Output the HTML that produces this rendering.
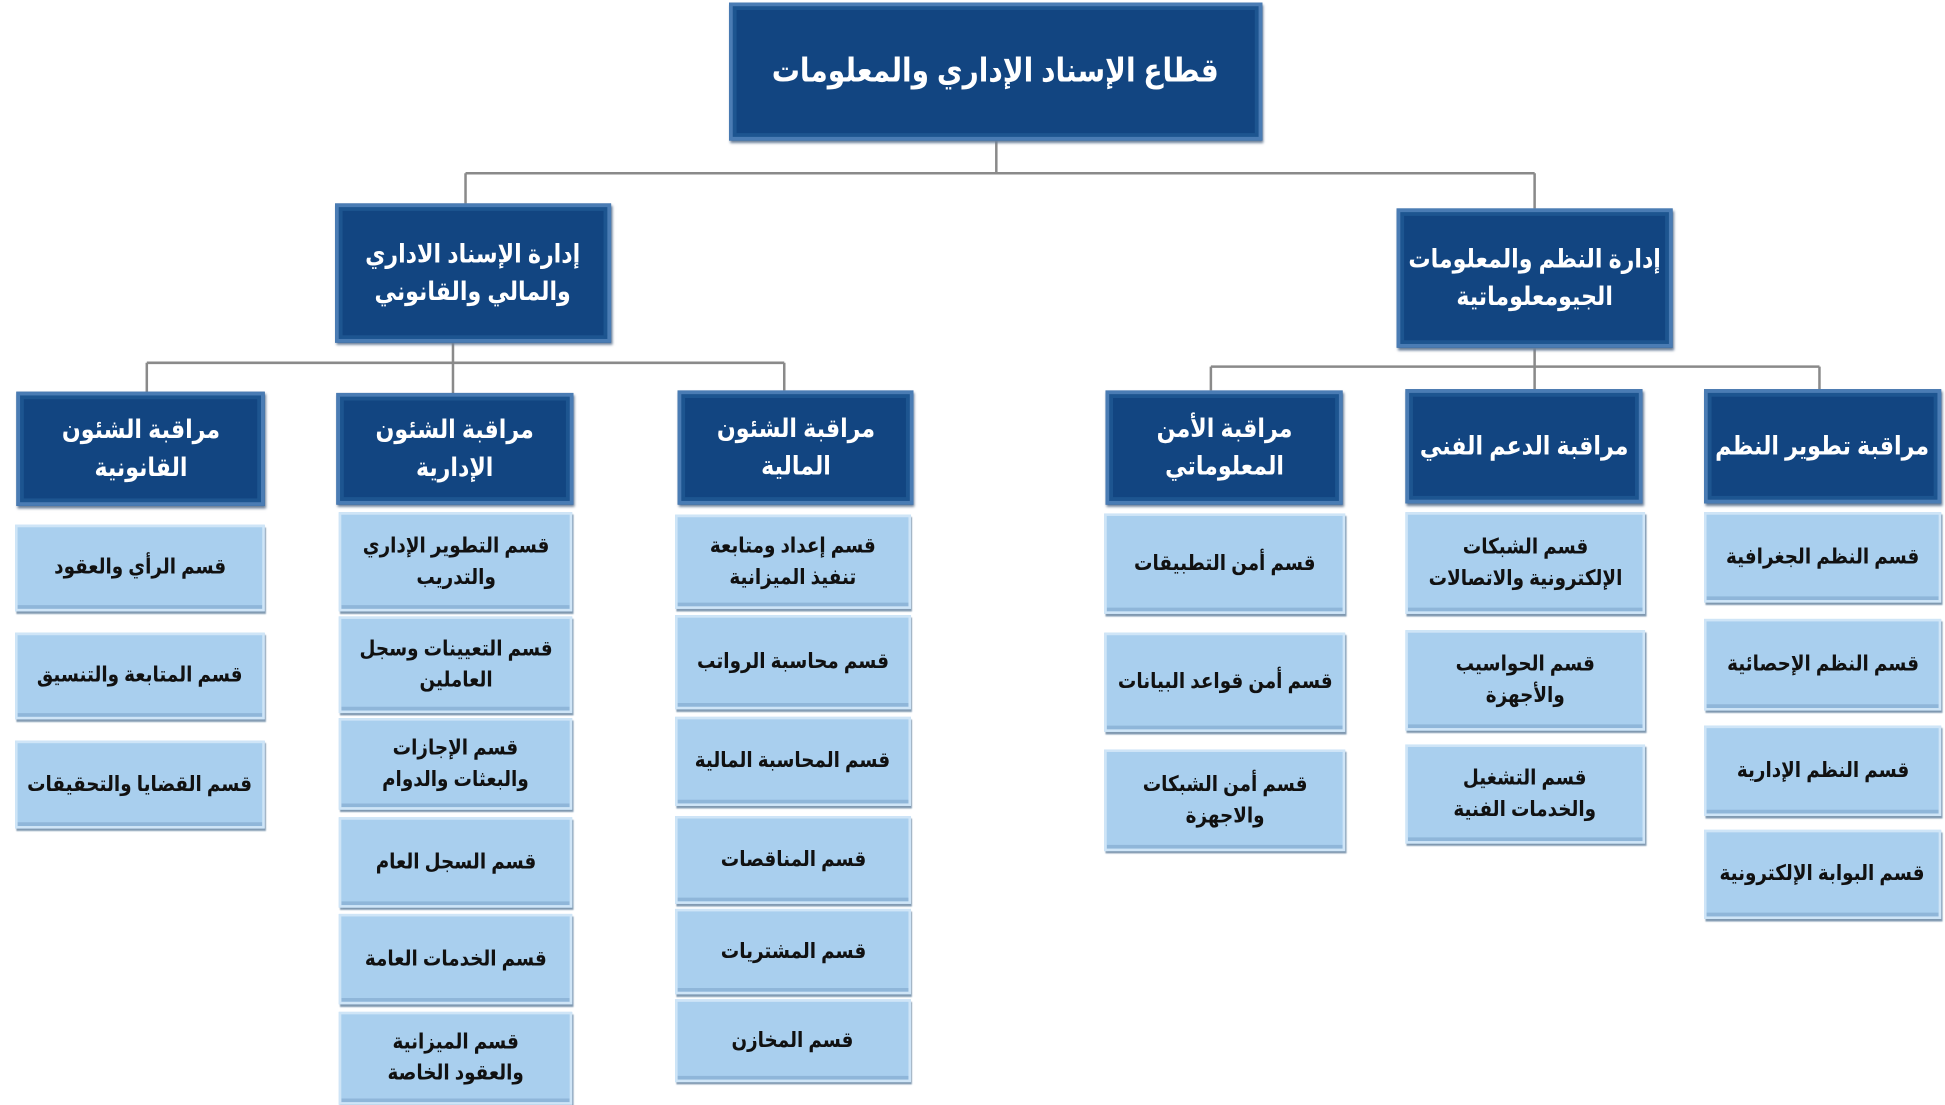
<!DOCTYPE html>
<html><head><meta charset="utf-8"><style>
html,body{margin:0;padding:0;background:#fff;width:1945px;height:1101px;overflow:hidden}
#w{position:absolute;left:0;top:0;width:1550px;height:877px;transform:scale(1.2548,1.2554);transform-origin:0 0}
.b{position:absolute;box-sizing:border-box;display:flex;align-items:center;justify-content:center;text-align:center;direction:rtl;font-family:"Liberation Sans","DejaVu Sans",sans-serif;font-weight:bold;line-height:1.45;white-space:nowrap}
.b span{display:inline-block;transform:scaleX(0.86)}
.d{background:#124581;border:3px solid #4a7cb4;box-shadow:inset 0 0 0 3px #1d5590,1px 2px 2px #6a7f99;color:#fff;font-size:20.5px}
.l{background:#a9cfee;border:2px solid #cfe5f7;box-shadow:inset 0 -3px 0 #8fb6d9,1px 2px 1px #7f98b0;color:#111;font-size:17px}
svg{position:absolute;left:0;top:0}
</style></head><body><div id="w">
<svg width="1550" height="877"><g stroke="#8a8a8a" stroke-width="2" fill="none">
<path d="M794 112V138M371 138H1223M371 138V162M1223 138V166"/>
<path d="M361 273V313M117 289H625M117 289V312M625 289V311"/>
<path d="M1223 277V310M965 292H1450M965 292V311M1450 292V310"/>
</g></svg>
<div class="b d" style="left:581px;top:2px;width:425px;height:110px;font-size:26px"><span>قطاع الإسناد الإداري والمعلومات</span></div>
<div class="b d" style="left:267px;top:162px;width:220px;height:111px"><span>إدارة الإسناد الاداري<br>والمالي والقانوني</span></div>
<div class="b d" style="left:1113px;top:166px;width:220px;height:111px"><span>إدارة النظم والمعلومات<br>الجيومعلوماتية</span></div>

<div class="b d" style="left:13px;top:312px;width:198px;height:91px"><span>مراقبة الشئون<br>القانونية</span></div>
<div class="b d" style="left:268px;top:313px;width:189px;height:89px"><span>مراقبة الشئون<br>الإدارية</span></div>
<div class="b d" style="left:540px;top:311px;width:188px;height:91px"><span>مراقبة الشئون<br>المالية</span></div>
<div class="b d" style="left:881px;top:311px;width:189px;height:91px"><span>مراقبة الأمن<br>المعلوماتي</span></div>
<div class="b d" style="left:1120px;top:310px;width:189px;height:91px"><span>مراقبة الدعم الفني</span></div>
<div class="b d" style="left:1358px;top:310px;width:189px;height:91px"><span>مراقبة تطوير النظم</span></div>

<div class="b l" style="left:12px;top:418px;width:199px;height:69px"><span>قسم الرأي والعقود</span></div>
<div class="b l" style="left:12px;top:504px;width:199px;height:69px"><span>قسم المتابعة والتنسيق</span></div>
<div class="b l" style="left:12px;top:590px;width:199px;height:70px"><span>قسم القضايا والتحقيقات</span></div>

<div class="b l" style="left:270px;top:408px;width:186px;height:79px"><span>قسم التطوير الإداري<br>والتدريب</span></div>
<div class="b l" style="left:270px;top:491px;width:186px;height:77px"><span>قسم التعيينات وسجل<br>العاملين</span></div>
<div class="b l" style="left:270px;top:572px;width:186px;height:73px"><span>قسم الإجازات<br>والبعثات والدوام</span></div>
<div class="b l" style="left:270px;top:651px;width:186px;height:72px"><span>قسم السجل العام</span></div>
<div class="b l" style="left:270px;top:728px;width:186px;height:72px"><span>قسم الخدمات العامة</span></div>
<div class="b l" style="left:270px;top:806px;width:186px;height:74px"><span>قسم الميزانية<br>والعقود الخاصة</span></div>

<div class="b l" style="left:538px;top:410px;width:188px;height:75px"><span>قسم إعداد ومتابعة<br>تنفيذ الميزانية</span></div>
<div class="b l" style="left:538px;top:490px;width:188px;height:75px"><span>قسم محاسبة الرواتب</span></div>
<div class="b l" style="left:538px;top:571px;width:188px;height:71px"><span>قسم المحاسبة المالية</span></div>
<div class="b l" style="left:538px;top:650px;width:188px;height:70px"><span>قسم المناقصات</span></div>
<div class="b l" style="left:538px;top:724px;width:188px;height:68px"><span>قسم المشتريات</span></div>
<div class="b l" style="left:538px;top:796px;width:188px;height:66px"><span>قسم المخازن</span></div>

<div class="b l" style="left:880px;top:409px;width:192px;height:80px"><span>قسم أمن التطبيقات</span></div>
<div class="b l" style="left:880px;top:504px;width:192px;height:79px"><span>قسم أمن قواعد البيانات</span></div>
<div class="b l" style="left:880px;top:597px;width:192px;height:81px"><span>قسم أمن الشبكات<br>والاجهزة</span></div>

<div class="b l" style="left:1120px;top:408px;width:191px;height:81px"><span>قسم الشبكات<br>الإلكترونية والاتصالات</span></div>
<div class="b l" style="left:1120px;top:502px;width:191px;height:80px"><span>قسم الحواسيب<br>والأجهزة</span></div>
<div class="b l" style="left:1120px;top:593px;width:191px;height:79px"><span>قسم التشغيل<br>والخدمات الفنية</span></div>

<div class="b l" style="left:1358px;top:408px;width:189px;height:72px"><span>قسم النظم الجغرافية</span></div>
<div class="b l" style="left:1358px;top:493px;width:189px;height:73px"><span>قسم النظم الإحصائية</span></div>
<div class="b l" style="left:1358px;top:578px;width:189px;height:72px"><span>قسم النظم الإدارية</span></div>
<div class="b l" style="left:1358px;top:661px;width:189px;height:71px"><span>قسم البوابة الإلكترونية</span></div>
</div></body></html>
